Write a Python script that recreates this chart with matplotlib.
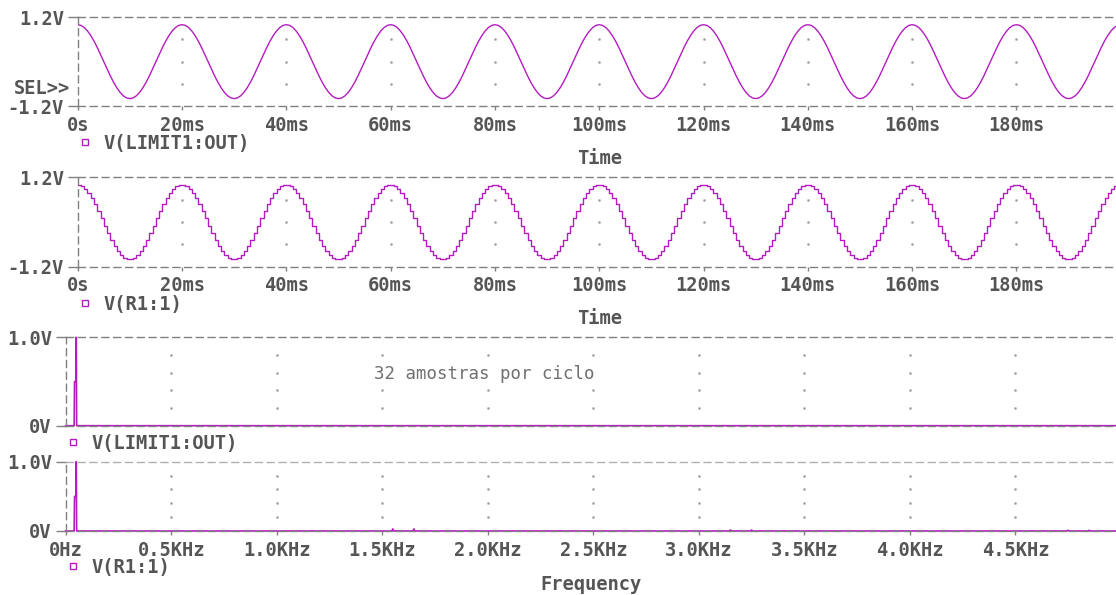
import numpy as np
import matplotlib
matplotlib.use("Agg")
import matplotlib.pyplot as plt
from matplotlib.lines import Line2D

plt.rcParams['font.family'] = ['DejaVu Sans Mono', 'DejaVu Sans']
plt.rcParams['font.weight'] = 'bold'
plt.rcParams['axes.labelweight'] = 'bold'
plt.rcParams['lines.scale_dashes'] = False

# one 20 ms cycle of the 50 Hz sine, 32 points per cycle
cycle_out = [1.000, 0.981, 0.924, 0.831, 0.707, 0.556, 0.383, 0.195,
             0.000, -0.195, -0.383, -0.556, -0.707, -0.831, -0.924, -0.981,
             -1.000, -0.981, -0.924, -0.831, -0.707, -0.556, -0.383, -0.195,
             0.000, 0.195, 0.383, 0.556, 0.707, 0.831, 0.924, 0.981]
# held sample levels seen at R1 (32 amostras por ciclo)
cycle_r1 = [0.995, 0.957, 0.882, 0.773, 0.634, 0.471, 0.290, 0.098,
            -0.098, -0.290, -0.471, -0.634, -0.773, -0.882, -0.957, -0.995,
            -0.995, -0.957, -0.882, -0.773, -0.634, -0.471, -0.290, -0.098,
            0.098, 0.290, 0.471, 0.634, 0.773, 0.882, 0.957, 0.995]
n_cycles = 10
period_s = 20e-3

time_ticks = [0, 20e-3, 40e-3, 60e-3, 80e-3, 100e-3, 120e-3, 140e-3, 160e-3, 180e-3]
time_labels = ['0s', '20ms', '40ms', '60ms', '80ms', '100ms', '120ms', '140ms', '160ms', '180ms']
freq_ticks = [0, 500, 1000, 1500, 2000, 2500, 3000, 3500, 4000, 4500]
freq_labels = ['0Hz', '0.5KHz', '1.0KHz', '1.5KHz', '2.0KHz', '2.5KHz', '3.0KHz',
               '3.5KHz', '4.0KHz', '4.5KHz']

# FFT magnitudes
freq_out = [0, 40, 42, 48, 50, 52, 4980]
amp_out = [0, 0, 0.5, 0.5, 1.0, 0, 0]
freq_r1 = [0, 40, 42, 48, 50, 52,
           1545, 1550, 1555, 1645, 1650, 1655,
           3145, 3150, 3155, 3245, 3250, 3255,
           4745, 4750, 4755, 4845, 4850, 4855, 4980]
amp_r1 = [0, 0, 0.5, 0.5, 1.0, 0,
          0, 0.03, 0, 0, 0.03, 0,
          0, 0.015, 0, 0, 0.015, 0,
          0, 0.01, 0, 0, 0.01, 0, 0]

TRACE = '#b41cc0'
GRAY = '#808080'
TXT = '#555555'
FS = 13.5
W, H = 1116, 595

fig = plt.figure(figsize=(W / 100, H / 100), dpi=100)


def add_panel(left, top, right, bottom):
    return fig.add_axes([left / W, 1 - bottom / H, (right - left) / W, (bottom - top) / H])


def style_panel(ax, xticks, xlabels, ylim, ylabels, dot_levels, legend_name):
    ax.set_ylim(*ylim)
    ax.set_yticks(list(ylim))
    ax.set_yticklabels(ylabels)
    ax.set_xticks(xticks)
    ax.set_xticklabels(xlabels)
    for side in ['top', 'left', 'bottom']:
        ax.spines[side].set_color(GRAY)
        ax.spines[side].set_linestyle((0, (5, 3.5)))
        ax.spines[side].set_linewidth(1)
    ax.spines['right'].set_visible(False)
    ax.tick_params(axis='x', direction='out', length=3, width=1, color=GRAY,
                   pad=4, labelsize=FS, labelcolor=TXT)
    ax.tick_params(axis='y', direction='out', length=7, width=1, color=GRAY,
                   pad=3, labelsize=FS, labelcolor=TXT)
    # PSpice style grid: dots only at the intersections
    gx, gy = np.meshgrid(xticks[1:], dot_levels)
    ax.plot(gx.ravel(), gy.ravel(), ls='none', marker='s', ms=0.8, color='#a0a0a0', zorder=1)
    handle = Line2D([], [], color=TRACE, marker='s', ls='none', mfc='none', ms=4.5, mew=1)
    ax.legend([handle], [legend_name], loc='center left', bbox_to_anchor=(0.0, -0.4),
              frameon=False, fontsize=FS, borderpad=0, borderaxespad=0,
              handletextpad=0.55, labelcolor=TXT, handlelength=0.8)


# time domain
t_out = np.arange(n_cycles * len(cycle_out) + 1) * period_s / len(cycle_out)
v_out = np.tile(cycle_out, n_cycles).tolist() + [cycle_out[0]]
v_r1 = np.tile(cycle_r1, n_cycles).tolist() + [cycle_r1[0]]

ax1 = add_panel(77.7, 17.3, 1120.8, 106)
ax1.plot(t_out, v_out, color=TRACE, lw=1.0)
ax1.set_xlim(0, 200e-3)
style_panel(ax1, time_ticks, time_labels, (-1.2, 1.2), ['-1.2V', '1.2V'],
            [-0.6, 0, 0.6], 'V(LIMIT1:OUT)')
ax1.legend_.set_bbox_to_anchor((0.0, -0.42), transform=ax1.transAxes)
ax1.set_xlabel('Time', fontsize=FS, color=TXT)
ax1.xaxis.set_label_coords(0.5, -(159 - 106) / 88.7)
ax1.xaxis.label.set_va('center')

ax2 = add_panel(77.7, 177.3, 1120.8, 266.7)
ax2.step(t_out, v_r1, where='post', color=TRACE, lw=1.0)
ax2.set_xlim(0, 200e-3)
style_panel(ax2, time_ticks, time_labels, (-1.2, 1.2), ['-1.2V', '1.2V'],
            [-0.6, 0, 0.6], 'V(R1:1)')
ax2.legend_.set_bbox_to_anchor((0.0, -0.42), transform=ax2.transAxes)
ax2.set_xlabel('Time', fontsize=FS, color=TXT)
ax2.xaxis.set_label_coords(0.5, -(319 - 266.7) / 89.4)
ax2.xaxis.label.set_va('center')

fig.text(70 / W, 1 - 88.3 / H, 'SEL>>', ha='right', va='center', fontsize=FS, color=TXT)

# frequency domain
ax3 = add_panel(65.7, 337.3, 1116, 425.7)
ax3.plot(freq_out, amp_out, color=TRACE, lw=1.2, clip_on=False)
ax3.set_xlim(0, 4977)
style_panel(ax3, freq_ticks, freq_labels, (0, 1.0), ['0V', '1.0V'],
            [0.2, 0.4, 0.6, 0.8], 'V(LIMIT1:OUT)')
ax3.tick_params(axis='x', length=0, labelbottom=False)
ax3.legend_.set_bbox_to_anchor((0.0, -0.2), transform=ax3.transAxes)
ax3.text(1982, 0.585, '32 amostras por ciclo', fontsize=12.5, fontweight='normal',
         color='#707070', ha='center', va='center', zorder=3,
         bbox=dict(facecolor='white', edgecolor='none', pad=1))

ax4 = add_panel(65.7, 461.7, 1116, 531)
ax4.plot(freq_r1, amp_r1, color=TRACE, lw=1.2, clip_on=False)
ax4.set_xlim(0, 4977)
style_panel(ax4, freq_ticks, freq_labels, (0, 1.0), ['0V', '1.0V'],
            [0.2, 0.4, 0.6, 0.8], 'V(R1:1)')
ax4.spines['top'].set_color('#b0b0b0')
ax4.legend_.set_bbox_to_anchor((0.0, -0.52), transform=ax4.transAxes)
ax4.set_xlabel('Frequency', fontsize=FS, color=TXT)
ax4.xaxis.set_label_coords(0.5, -(585 - 531) / 69.3)
ax4.xaxis.label.set_va('center')

fig.savefig('out.png', dpi=100, facecolor='white')
